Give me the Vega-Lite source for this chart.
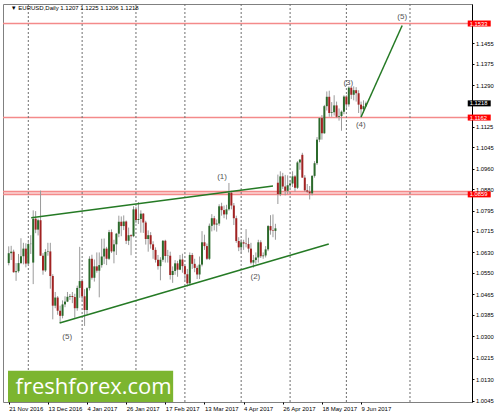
{
  "$schema": "https://vega.github.io/schema/vega-lite/v6.json",
  "width": 469,
  "height": 398,
  "autosize": {"type": "none"},
  "padding": {"left": 3, "top": 4, "right": 27, "bottom": 13},
  "background": "white",
  "config": {
    "view": {"stroke": "#808080", "strokeWidth": 1},
    "font": "Liberation Sans",
    "axis": {"labelOverlap": false, "grid": false, "title": null, "labelFlush": false},
    "axisY": {"labelOverlap": false, "orient": "right"},
    "axisX": {"labelOverlap": false}
  },
  "datasets": {
    "candles": [
      {"i":0,"d":"2016-11-21","o":1.0588,"h":1.0654,"l":1.0579,"c":1.0627},
      {"i":1,"d":"2016-11-22","o":1.0627,"h":1.0656,"l":1.0600,"c":1.0633},
      {"i":2,"d":"2016-11-23","o":1.0633,"h":1.0641,"l":1.0550,"c":1.0552},
      {"i":3,"d":"2016-11-24","o":1.0552,"h":1.0588,"l":1.0518,"c":1.0556},
      {"i":4,"d":"2016-11-25","o":1.0556,"h":1.0624,"l":1.0550,"c":1.0588},
      {"i":5,"d":"2016-11-28","o":1.0588,"h":1.0686,"l":1.0584,"c":1.0615},
      {"i":6,"d":"2016-11-29","o":1.0615,"h":1.0668,"l":1.0583,"c":1.0645},
      {"i":7,"d":"2016-11-30","o":1.0645,"h":1.0666,"l":1.0571,"c":1.0586},
      {"i":8,"d":"2016-12-01","o":1.0586,"h":1.0673,"l":1.0580,"c":1.0663},
      {"i":9,"d":"2016-12-02","o":1.0663,"h":1.0698,"l":1.0624,"c":1.0664},
      {"i":10,"d":"2016-12-05","o":1.0590,"h":1.0796,"l":1.0505,"c":1.0763},
      {"i":11,"d":"2016-12-06","o":1.0763,"h":1.0793,"l":1.0706,"c":1.0720},
      {"i":12,"d":"2016-12-07","o":1.0720,"h":1.0763,"l":1.0697,"c":1.0757},
      {"i":13,"d":"2016-12-08","o":1.0757,"h":1.0874,"l":1.0617,"c":1.0617},
      {"i":14,"d":"2016-12-09","o":1.0617,"h":1.0627,"l":1.0542,"c":1.0559},
      {"i":15,"d":"2016-12-12","o":1.0559,"h":1.0643,"l":1.0553,"c":1.0632},
      {"i":16,"d":"2016-12-13","o":1.0632,"h":1.0668,"l":1.0617,"c":1.0634},
      {"i":17,"d":"2016-12-14","o":1.0634,"h":1.0668,"l":1.0487,"c":1.0537},
      {"i":18,"d":"2016-12-15","o":1.0537,"h":1.0544,"l":1.0366,"c":1.0420},
      {"i":19,"d":"2016-12-16","o":1.0420,"h":1.0474,"l":1.0410,"c":1.0452},
      {"i":20,"d":"2016-12-19","o":1.0452,"h":1.0458,"l":1.0384,"c":1.0400},
      {"i":21,"d":"2016-12-20","o":1.0400,"h":1.0420,"l":1.0352,"c":1.0380},
      {"i":22,"d":"2016-12-21","o":1.0380,"h":1.0441,"l":1.0370,"c":1.0425},
      {"i":23,"d":"2016-12-22","o":1.0425,"h":1.0457,"l":1.0414,"c":1.0436},
      {"i":24,"d":"2016-12-23","o":1.0436,"h":1.0474,"l":1.0434,"c":1.0455},
      {"i":25,"d":"2016-12-26","o":1.0455,"h":1.0466,"l":1.0443,"c":1.0458},
      {"i":26,"d":"2016-12-27","o":1.0458,"h":1.0474,"l":1.0430,"c":1.0454},
      {"i":27,"d":"2016-12-28","o":1.0454,"h":1.0467,"l":1.0372,"c":1.0410},
      {"i":28,"d":"2016-12-29","o":1.0410,"h":1.0499,"l":1.0400,"c":1.0490},
      {"i":29,"d":"2016-12-30","o":1.0490,"h":1.0652,"l":1.0451,"c":1.0517},
      {"i":30,"d":"2017-01-02","o":1.0517,"h":1.0525,"l":1.0440,"c":1.0457},
      {"i":31,"d":"2017-01-03","o":1.0457,"h":1.0485,"l":1.0340,"c":1.0403},
      {"i":32,"d":"2017-01-04","o":1.0403,"h":1.0493,"l":1.0387,"c":1.0489},
      {"i":33,"d":"2017-01-05","o":1.0489,"h":1.0615,"l":1.0480,"c":1.0605},
      {"i":34,"d":"2017-01-06","o":1.0605,"h":1.0621,"l":1.0523,"c":1.0530},
      {"i":35,"d":"2017-01-09","o":1.0530,"h":1.0602,"l":1.0515,"c":1.0575},
      {"i":36,"d":"2017-01-10","o":1.0575,"h":1.0630,"l":1.0550,"c":1.0558},
      {"i":37,"d":"2017-01-11","o":1.0558,"h":1.0630,"l":1.0453,"c":1.0580},
      {"i":38,"d":"2017-01-12","o":1.0580,"h":1.0684,"l":1.0570,"c":1.0614},
      {"i":39,"d":"2017-01-13","o":1.0614,"h":1.0685,"l":1.0584,"c":1.0645},
      {"i":40,"d":"2017-01-16","o":1.0645,"h":1.0652,"l":1.0580,"c":1.0605},
      {"i":41,"d":"2017-01-17","o":1.0605,"h":1.0719,"l":1.0600,"c":1.0710},
      {"i":42,"d":"2017-01-18","o":1.0710,"h":1.0721,"l":1.0628,"c":1.0634},
      {"i":43,"d":"2017-01-19","o":1.0634,"h":1.0680,"l":1.0587,"c":1.0662},
      {"i":44,"d":"2017-01-20","o":1.0662,"h":1.0707,"l":1.0620,"c":1.0704},
      {"i":45,"d":"2017-01-23","o":1.0704,"h":1.0775,"l":1.0690,"c":1.0751},
      {"i":46,"d":"2017-01-24","o":1.0751,"h":1.0772,"l":1.0694,"c":1.0734},
      {"i":47,"d":"2017-01-25","o":1.0734,"h":1.0776,"l":1.0718,"c":1.0752},
      {"i":48,"d":"2017-01-26","o":1.0752,"h":1.0756,"l":1.0663,"c":1.0676},
      {"i":49,"d":"2017-01-27","o":1.0676,"h":1.0728,"l":1.0659,"c":1.0698},
      {"i":50,"d":"2017-01-30","o":1.0698,"h":1.0702,"l":1.0619,"c":1.0694},
      {"i":51,"d":"2017-01-31","o":1.0694,"h":1.0812,"l":1.0690,"c":1.0800},
      {"i":52,"d":"2017-02-01","o":1.0800,"h":1.0810,"l":1.0745,"c":1.0758},
      {"i":53,"d":"2017-02-02","o":1.0758,"h":1.0829,"l":1.0742,"c":1.0762},
      {"i":54,"d":"2017-02-03","o":1.0762,"h":1.0796,"l":1.0708,"c":1.0783},
      {"i":55,"d":"2017-02-06","o":1.0783,"h":1.0785,"l":1.0707,"c":1.0748},
      {"i":56,"d":"2017-02-07","o":1.0748,"h":1.0755,"l":1.0661,"c":1.0683},
      {"i":57,"d":"2017-02-08","o":1.0683,"h":1.0717,"l":1.0633,"c":1.0698},
      {"i":58,"d":"2017-02-09","o":1.0698,"h":1.0710,"l":1.0645,"c":1.0662},
      {"i":59,"d":"2017-02-10","o":1.0662,"h":1.0674,"l":1.0605,"c":1.0640},
      {"i":60,"d":"2017-02-13","o":1.0640,"h":1.0650,"l":1.0590,"c":1.0601},
      {"i":61,"d":"2017-02-14","o":1.0601,"h":1.0620,"l":1.0562,"c":1.0576},
      {"i":62,"d":"2017-02-15","o":1.0576,"h":1.0611,"l":1.0520,"c":1.0601},
      {"i":63,"d":"2017-02-16","o":1.0601,"h":1.0679,"l":1.0593,"c":1.0676},
      {"i":64,"d":"2017-02-17","o":1.0676,"h":1.0680,"l":1.0590,"c":1.0616},
      {"i":65,"d":"2017-02-20","o":1.0616,"h":1.0640,"l":1.0590,"c":1.0617},
      {"i":66,"d":"2017-02-21","o":1.0617,"h":1.0633,"l":1.0523,"c":1.0541},
      {"i":67,"d":"2017-02-22","o":1.0541,"h":1.0575,"l":1.0510,"c":1.0557},
      {"i":68,"d":"2017-02-23","o":1.0557,"h":1.0600,"l":1.0542,"c":1.0587},
      {"i":69,"d":"2017-02-24","o":1.0587,"h":1.0597,"l":1.0534,"c":1.0562},
      {"i":70,"d":"2017-02-27","o":1.0562,"h":1.0620,"l":1.0560,"c":1.0602},
      {"i":71,"d":"2017-02-28","o":1.0602,"h":1.0625,"l":1.0550,"c":1.0576},
      {"i":72,"d":"2017-03-01","o":1.0576,"h":1.0578,"l":1.0520,"c":1.0544},
      {"i":73,"d":"2017-03-02","o":1.0544,"h":1.0565,"l":1.0496,"c":1.0508},
      {"i":74,"d":"2017-03-03","o":1.0508,"h":1.0630,"l":1.0500,"c":1.0620},
      {"i":75,"d":"2017-03-06","o":1.0620,"h":1.0628,"l":1.0565,"c":1.0585},
      {"i":76,"d":"2017-03-07","o":1.0585,"h":1.0605,"l":1.0552,"c":1.0569},
      {"i":77,"d":"2017-03-08","o":1.0569,"h":1.0578,"l":1.0525,"c":1.0543},
      {"i":78,"d":"2017-03-09","o":1.0543,"h":1.0614,"l":1.0525,"c":1.0582},
      {"i":79,"d":"2017-03-10","o":1.0582,"h":1.0714,"l":1.0575,"c":1.0670},
      {"i":80,"d":"2017-03-13","o":1.0670,"h":1.0700,"l":1.0640,"c":1.0655},
      {"i":81,"d":"2017-03-14","o":1.0655,"h":1.0665,"l":1.0600,"c":1.0605},
      {"i":82,"d":"2017-03-15","o":1.0605,"h":1.0744,"l":1.0600,"c":1.0735},
      {"i":83,"d":"2017-03-16","o":1.0735,"h":1.0781,"l":1.0713,"c":1.0765},
      {"i":84,"d":"2017-03-17","o":1.0765,"h":1.0774,"l":1.0717,"c":1.0740},
      {"i":85,"d":"2017-03-20","o":1.0740,"h":1.0760,"l":1.0712,"c":1.0744},
      {"i":86,"d":"2017-03-21","o":1.0744,"h":1.0820,"l":1.0735,"c":1.0812},
      {"i":87,"d":"2017-03-22","o":1.0812,"h":1.0826,"l":1.0775,"c":1.0797},
      {"i":88,"d":"2017-03-23","o":1.0797,"h":1.0815,"l":1.0765,"c":1.0780},
      {"i":89,"d":"2017-03-24","o":1.0780,"h":1.0818,"l":1.0760,"c":1.0800},
      {"i":90,"d":"2017-03-27","o":1.0800,"h":1.0904,"l":1.0795,"c":1.0865},
      {"i":91,"d":"2017-03-28","o":1.0865,"h":1.0873,"l":1.0800,"c":1.0815},
      {"i":92,"d":"2017-03-29","o":1.0815,"h":1.0825,"l":1.0738,"c":1.0765},
      {"i":93,"d":"2017-03-30","o":1.0765,"h":1.0775,"l":1.0668,"c":1.0675},
      {"i":94,"d":"2017-03-31","o":1.0675,"h":1.0690,"l":1.0635,"c":1.0650},
      {"i":95,"d":"2017-04-03","o":1.0650,"h":1.0682,"l":1.0625,"c":1.0670},
      {"i":96,"d":"2017-04-04","o":1.0670,"h":1.0680,"l":1.0640,"c":1.0665},
      {"i":97,"d":"2017-04-05","o":1.0665,"h":1.0722,"l":1.0650,"c":1.0663},
      {"i":98,"d":"2017-04-06","o":1.0663,"h":1.0688,"l":1.0630,"c":1.0645},
      {"i":99,"d":"2017-04-07","o":1.0645,"h":1.0668,"l":1.0583,"c":1.0590},
      {"i":100,"d":"2017-04-10","o":1.0590,"h":1.0620,"l":1.0570,"c":1.0600},
      {"i":101,"d":"2017-04-11","o":1.0600,"h":1.0630,"l":1.0585,"c":1.0610},
      {"i":102,"d":"2017-04-12","o":1.0610,"h":1.0680,"l":1.0590,"c":1.0670},
      {"i":103,"d":"2017-04-13","o":1.0670,"h":1.0678,"l":1.0608,"c":1.0615},
      {"i":104,"d":"2017-04-14","o":1.0615,"h":1.0630,"l":1.0605,"c":1.0618},
      {"i":105,"d":"2017-04-17","o":1.0618,"h":1.0655,"l":1.0610,"c":1.0642},
      {"i":106,"d":"2017-04-18","o":1.0642,"h":1.0738,"l":1.0635,"c":1.0734},
      {"i":107,"d":"2017-04-19","o":1.0734,"h":1.0777,"l":1.0700,"c":1.0717},
      {"i":108,"d":"2017-04-20","o":1.0717,"h":1.0780,"l":1.0690,"c":1.0715},
      {"i":109,"d":"2017-04-21","o":1.0715,"h":1.0743,"l":1.0680,"c":1.0725},
      {"i":110,"d":"2017-04-24","o":1.0905,"h":1.0937,"l":1.0821,"c":1.0860},
      {"i":111,"d":"2017-04-25","o":1.0860,"h":1.0950,"l":1.0852,"c":1.0930},
      {"i":112,"d":"2017-04-26","o":1.0930,"h":1.0944,"l":1.0880,"c":1.0890},
      {"i":113,"d":"2017-04-27","o":1.0890,"h":1.0936,"l":1.0855,"c":1.0873},
      {"i":114,"d":"2017-04-28","o":1.0873,"h":1.0934,"l":1.0860,"c":1.0895},
      {"i":115,"d":"2017-05-01","o":1.0895,"h":1.0916,"l":1.0885,"c":1.0902},
      {"i":116,"d":"2017-05-02","o":1.0902,"h":1.0950,"l":1.0888,"c":1.0930},
      {"i":117,"d":"2017-05-03","o":1.0930,"h":1.0935,"l":1.0870,"c":1.0885},
      {"i":118,"d":"2017-05-04","o":1.0885,"h":1.0990,"l":1.0880,"c":1.0985},
      {"i":119,"d":"2017-05-05","o":1.0985,"h":1.0998,"l":1.0956,"c":1.0996},
      {"i":120,"d":"2017-05-08","o":1.1015,"h":1.1023,"l":1.0925,"c":1.0925},
      {"i":121,"d":"2017-05-09","o":1.0925,"h":1.0935,"l":1.0870,"c":1.0875},
      {"i":122,"d":"2017-05-10","o":1.0875,"h":1.0900,"l":1.0865,"c":1.0870},
      {"i":123,"d":"2017-05-11","o":1.0870,"h":1.0892,"l":1.0839,"c":1.0863},
      {"i":124,"d":"2017-05-12","o":1.0863,"h":1.0935,"l":1.0855,"c":1.0932},
      {"i":125,"d":"2017-05-15","o":1.0932,"h":1.0990,"l":1.0925,"c":1.0982},
      {"i":126,"d":"2017-05-16","o":1.0982,"h":1.1085,"l":1.0975,"c":1.1075},
      {"i":127,"d":"2017-05-17","o":1.1075,"h":1.1162,"l":1.1065,"c":1.1160},
      {"i":128,"d":"2017-05-18","o":1.1160,"h":1.1172,"l":1.1075,"c":1.1100},
      {"i":129,"d":"2017-05-19","o":1.1100,"h":1.1212,"l":1.1098,"c":1.1207},
      {"i":130,"d":"2017-05-22","o":1.1207,"h":1.1265,"l":1.1190,"c":1.1244},
      {"i":131,"d":"2017-05-23","o":1.1244,"h":1.1268,"l":1.1165,"c":1.1180},
      {"i":132,"d":"2017-05-24","o":1.1180,"h":1.1223,"l":1.1165,"c":1.1183},
      {"i":133,"d":"2017-05-25","o":1.1183,"h":1.1250,"l":1.1170,"c":1.1210},
      {"i":134,"d":"2017-05-26","o":1.1210,"h":1.1225,"l":1.1160,"c":1.1165},
      {"i":135,"d":"2017-05-29","o":1.1165,"h":1.1198,"l":1.1150,"c":1.1168},
      {"i":136,"d":"2017-05-30","o":1.1168,"h":1.1190,"l":1.1110,"c":1.1185},
      {"i":137,"d":"2017-05-31","o":1.1185,"h":1.1250,"l":1.1175,"c":1.1245},
      {"i":138,"d":"2017-06-01","o":1.1245,"h":1.1250,"l":1.1200,"c":1.1214},
      {"i":139,"d":"2017-06-02","o":1.1214,"h":1.1285,"l":1.1205,"c":1.1280},
      {"i":140,"d":"2017-06-05","o":1.1280,"h":1.1282,"l":1.1235,"c":1.1252},
      {"i":141,"d":"2017-06-06","o":1.1252,"h":1.1285,"l":1.1230,"c":1.1270},
      {"i":142,"d":"2017-06-07","o":1.1270,"h":1.1282,"l":1.1225,"c":1.1258},
      {"i":143,"d":"2017-06-08","o":1.1258,"h":1.1270,"l":1.1180,"c":1.1213},
      {"i":144,"d":"2017-06-09","o":1.1213,"h":1.1225,"l":1.1160,"c":1.1195},
      {"i":145,"d":"2017-06-12","o":1.1195,"h":1.1230,"l":1.1180,"c":1.1207},
      {"i":146,"d":"2017-06-13","o":1.1207,"h":1.1225,"l":1.1206,"c":1.1218}
    ],
    "months": [
      {"i":8,"m":"Dec 2016"},{"i":30,"m":"Jan 2017"},{"i":52,"m":"Feb 2017"},{"i":72,"m":"Mar 2017"},
      {"i":95,"m":"Apr 2017"},{"i":115,"m":"May 2017"},{"i":138,"m":"Jun 2017"},{"i":164,"m":"Jul 2017"}
    ],
    "levels": [{"p":1.1533},{"p":1.1162},{"p":1.0870},{"p":1.0859}],
    "trend": [
      {"id":"upper","i":9.2,"p":1.0767},{"id":"upper","i":108,"p":1.0892},
      {"id":"lower","i":20.8,"p":1.0352},{"id":"lower","i":130.8,"p":1.0663},
      {"id":"target","i":144,"p":1.1164},{"id":"target","i":160.8,"p":1.1525}
    ],
    "waves": [
      {"i":87.2,"p":1.0928,"t":"(1)"},{"i":100.8,"p":1.0532,"t":"(2)"},
      {"i":138.8,"p":1.1300,"t":"(3)"},{"i":143.9,"p":1.1133,"t":"(4)"},
      {"i":160.8,"p":1.1558,"t":"(5)"},{"i":23.9,"p":1.0298,"t":"(5)"}
    ],
    "tags": [
      {"p":1.1533,"kind":"level"},{"p":1.1218,"kind":"price"},
      {"p":1.1162,"kind":"level"},{"p":1.0859,"kind":"level"}
    ]
  },
  "layer": [
    {
      "data": {"name": "levels"},
      "mark": {"type": "rule", "color": "#f48a8a", "strokeWidth": 1.6},
      "encoding": {
        "y": {"field": "p", "type": "quantitative", "scale": {"domain": [1.004, 1.161], "nice": false, "zero": false},
          "axis": {"orient": "right", "values": [1.1455,1.1375,1.1290,1.1125,1.1045,1.0960,1.0880,1.0795,1.0715,1.0630,1.0550,1.0465,1.0385,1.0300,1.0215,1.0130,1.0045],
            "tickCount": 40, "format": ".4f", "grid": false, "domain": true, "domainColor": "#000", "tickSize": 2, "tickColor": "#000",
            "labelFontSize": 5.8, "labelColor": "#000", "labelPadding": 1.5, "labelBaseline": "middle", "title": null,
            "labelOverlap": false, "labelFlush": false}}
      }
    },
    {
      "data": {"name": "months"},
      "mark": {"type": "rule", "color": "#6e6e6e", "strokeDash": [2, 2], "strokeWidth": 1},
      "encoding": {
        "x": {"field": "i", "type": "quantitative", "scale": {"domain": [-0.3, 187.3], "nice": false, "zero": false},
          "axis": {"values": [0,16,32,48,64,80,96,112,128,144], "tickCount": 40,
            "labelExpr": "['21 Nov 2016','13 Dec 2016','4 Jan 2017','26 Jan 2017','17 Feb 2017','13 Mar 2017','4 Apr 2017','26 Apr 2017','18 May 2017','9 Jun 2017'][round(datum.value/16)]",
            "grid": false, "domain": false, "tickSize": 2, "tickColor": "#000", "labelAlign": "left", "labelBaseline": "top",
            "labelFontSize": 6, "labelColor": "#000", "labelPadding": 1, "title": null, "labelFlush": false, "labelOverlap": false}}
      }
    },
    {
      "data": {"name": "candles"},
      "mark": {"type": "rule", "color": "#9a9a9a", "strokeWidth": 1},
      "encoding": {
        "x": {"field": "i", "type": "quantitative", "scale": {"domain": [-0.3, 187.3], "nice": false, "zero": false}},
        "y": {"field": "l", "type": "quantitative", "scale": {"domain": [1.004, 1.161], "nice": false, "zero": false}},
        "y2": {"field": "h"}
      }
    },
    {
      "data": {"name": "candles"},
      "mark": {"type": "bar", "size": 2},
      "encoding": {
        "x": {"field": "i", "type": "quantitative", "scale": {"domain": [-0.3, 187.3], "nice": false, "zero": false}},
        "y": {"field": "o", "type": "quantitative", "scale": {"domain": [1.004, 1.161], "nice": false, "zero": false}},
        "y2": {"field": "c"},
        "color": {"condition": {"test": "datum.c >= datum.o", "value": "#2b6a2b"}, "value": "#a12222"}
      }
    },
    {
      "data": {"name": "trend"},
      "mark": {"type": "line", "color": "#257a25", "strokeWidth": 1.5},
      "encoding": {
        "x": {"field": "i", "type": "quantitative", "scale": {"domain": [-0.3, 187.3], "nice": false, "zero": false}},
        "y": {"field": "p", "type": "quantitative", "scale": {"domain": [1.004, 1.161], "nice": false, "zero": false}},
        "detail": {"field": "id"}
      }
    },
    {
      "data": {"name": "waves"},
      "mark": {"type": "text", "fontSize": 8, "color": "#555555", "align": "center", "baseline": "middle"},
      "encoding": {
        "x": {"field": "i", "type": "quantitative", "scale": {"domain": [-0.3, 187.3], "nice": false, "zero": false}},
        "y": {"field": "p", "type": "quantitative", "scale": {"domain": [1.004, 1.161], "nice": false, "zero": false}},
        "text": {"field": "t"}
      }
    },
    {
      "data": {"name": "tags"},
      "mark": {"type": "tick", "orient": "horizontal", "size": 23, "thickness": 6, "opacity": 1},
      "encoding": {
        "x": {"datum": 192.3, "type": "quantitative", "scale": {"domain": [-0.3, 187.3], "nice": false, "zero": false}},
        "y": {"field": "p", "type": "quantitative", "scale": {"domain": [1.004, 1.161], "nice": false, "zero": false}},
        "color": {"field": "kind", "type": "nominal", "scale": {"domain": ["level", "price"], "range": ["#ff0000", "#000000"]}, "legend": null}
      }
    },
    {
      "data": {"name": "tags"},
      "mark": {"type": "text", "fontSize": 5.8, "color": "#ffffff", "align": "left", "baseline": "middle"},
      "encoding": {
        "x": {"datum": 188.4, "type": "quantitative", "scale": {"domain": [-0.3, 187.3], "nice": false, "zero": false}},
        "y": {"field": "p", "type": "quantitative", "scale": {"domain": [1.004, 1.161], "nice": false, "zero": false}},
        "text": {"field": "p", "type": "quantitative", "format": ".4f"}
      }
    },
    {
      "data": {"values": [{}]},
      "mark": {"type": "rect", "color": "#7cb530"},
      "encoding": {
        "x": {"datum": -0.3, "type": "quantitative", "scale": {"domain": [-0.3, 187.3], "nice": false, "zero": false}},
        "x2": {"datum": 67.2},
        "y": {"datum": 1.004, "type": "quantitative", "scale": {"domain": [1.004, 1.161], "nice": false, "zero": false}},
        "y2": {"datum": 1.0163}
      }
    },
    {
      "data": {"values": [{"t": "freshforex.com"}]},
      "mark": {"type": "text", "font": "Open Sans", "fontSize": 22, "color": "#ffffff", "align": "left", "baseline": "middle"},
      "encoding": {
        "x": {"datum": 2.8, "type": "quantitative", "scale": {"domain": [-0.3, 187.3], "nice": false, "zero": false}},
        "y": {"datum": 1.0098, "type": "quantitative", "scale": {"domain": [1.004, 1.161], "nice": false, "zero": false}},
        "text": {"field": "t"}
      }
    },
    {
      "data": {"values": [{"t": "▼ EURUSD,Daily  1.1207 1.1225 1.1206 1.1218"}]},
      "mark": {"type": "text", "font": "Liberation Sans", "fontSize": 6, "color": "#000000", "align": "left", "baseline": "middle"},
      "encoding": {
        "x": {"datum": 0.8, "type": "quantitative", "scale": {"domain": [-0.3, 187.3], "nice": false, "zero": false}},
        "y": {"datum": 1.1593, "type": "quantitative", "scale": {"domain": [1.004, 1.161], "nice": false, "zero": false}},
        "text": {"field": "t"}
      }
    }
  ]
}
